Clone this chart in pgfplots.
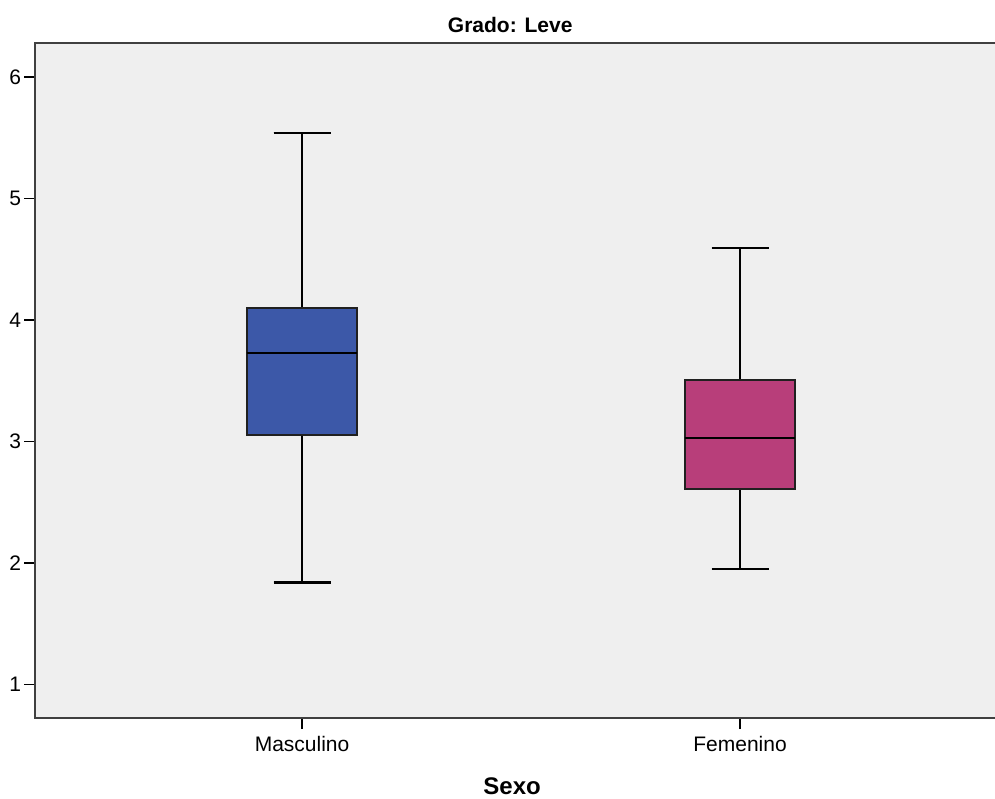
\documentclass[border=0pt]{standalone}
\usepackage{fontspec}
\setmainfont{Liberation Sans}
\usepackage{pgfplots}
\pgfplotsset{compat=1.18}
\usepgfplotslibrary{statistics}
\definecolor{bg}{HTML}{EFEFEF}
\definecolor{mblue}{HTML}{3C58A8}
\definecolor{fpink}{HTML}{B83E7A}
\definecolor{frame}{HTML}{404040}
\definecolor{boxline}{HTML}{202020}
\begin{document}
\begin{tikzpicture}
\begin{axis}[
  name=ax,
  at={(0,0)}, anchor=south west,
  scale only axis,
  width=480pt, height=337.5pt,
  xmin=0.3904, xmax=2.582,
  ymin=0.724, ymax=6.28,
  axis line style={draw=none},
  axis background/.style={fill=bg},
  xtick={1,2}, xticklabels={Masculino,Femenino},
  ytick={1,2,3,4,5,6},
  tick align=outside,
  xtick pos=bottom, ytick pos=left,
  major tick length=5.5pt,
  tick style={black, line width=0.9pt},
  tick label style={font=\fontsize{10.5}{12}\selectfont},
  /pgf/number format/assume math mode=true,
  xticklabel style={yshift=0pt},
  yticklabel style={xshift=2pt},
  clip=false,
  boxplot/draw direction=y,
]
\addplot[fill=mblue, draw=boxline, line width=1pt,
  boxplot prepared={median=3.73, upper quartile=4.10, lower quartile=3.05,
    upper whisker=5.54, lower whisker=1.84, draw position=1,
    box extend=0.253, whisker extend=0.13,
    every median/.style={black, line width=1.1pt},
    every whisker/.style={black, line width=1.1pt}}]
  coordinates {};
\addplot[fill=fpink, draw=boxline, line width=1pt,
  boxplot prepared={median=3.03, upper quartile=3.51, lower quartile=2.61,
    upper whisker=4.59, lower whisker=1.95, draw position=2,
    box extend=0.253, whisker extend=0.13,
    every median/.style={black, line width=1.1pt},
    every whisker/.style={black, line width=1.1pt}}]
  coordinates {};
\draw[frame, line width=1.1pt] (rel axis cs:1,1) -- (rel axis cs:0,1) -- (rel axis cs:0,0) -- (rel axis cs:1,0);
\node[anchor=base, font=\bfseries\fontsize{10.5}{12}\selectfont] at (rel axis cs:0.495,1) [yshift=5pt] {Grado: Leve};
\node[anchor=base, font=\bfseries\fontsize{12}{14}\selectfont] at (rel axis cs:0.497,0) [yshift=-38pt] {Sexo};
\end{axis}
\pgfresetboundingbox
\path (-17.5pt,-40pt) rectangle (480pt,359pt);
\end{tikzpicture}
\end{document}
